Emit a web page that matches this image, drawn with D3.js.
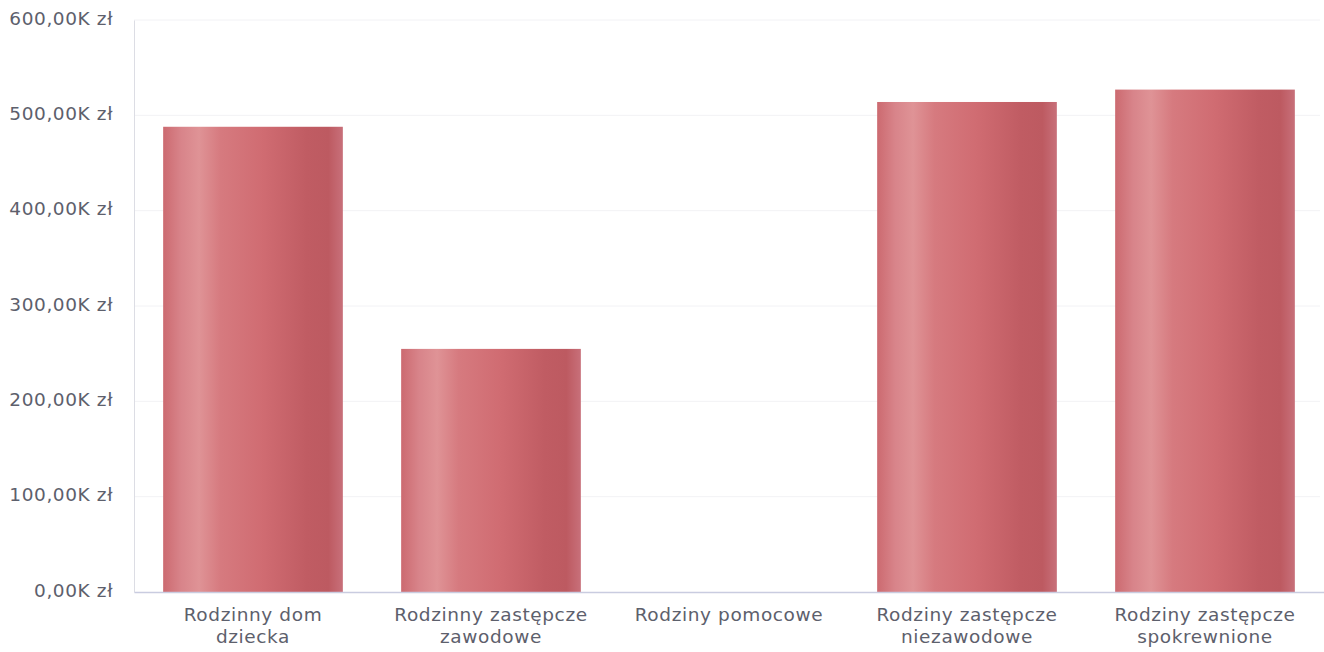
<!DOCTYPE html>
<html><head><meta charset="utf-8">
<script src="https://cdn.jsdelivr.net/npm/d3@7"></script>
<style>
html,body{margin:0;padding:0;background:#fff;}
text{font-family:"DejaVu Sans",sans-serif;}
</style></head>
<body><svg id="c" width="1324" height="652"></svg>
<script>
const categories = ["Rodzinny dom|dziecka","Rodzinny zastępcze|zawodowe","Rodziny pomocowe","Rodziny zastępcze|niezawodowe","Rodziny zastępcze|spokrewnione"];
const values = [488000, 255000, 0, 514000, 527000];
const yTicks = [0, 100000, 200000, 300000, 400000, 500000, 600000];

const svg = d3.select("#c");
const m = {left:134, right:1324, top:20, bottom:592};
const x = d3.scaleBand().domain(categories).range([m.left, m.right]).paddingInner(0.245).paddingOuter(0.1225);
const y = d3.scaleLinear().domain([0, 600000]).range([m.bottom, m.top]);

const defs = svg.append("defs");
const g = defs.append("linearGradient").attr("id","bar").attr("x1","0").attr("x2","1").attr("y1","0").attr("y2","0");
[[0,"#cc6a70"],[0.1,"#d8848a"],[0.2,"#df9396"],[0.32,"#d67a7f"],[0.55,"#d06c72"],[0.8,"#c05c63"],[0.92,"#bd5a61"],[1,"#c8707a"]]
  .forEach(([o,c])=>g.append("stop").attr("offset",o).attr("stop-color",c));

// gridlines
svg.append("g").selectAll("line").data(yTicks.filter(d=>d>0)).join("line")
  .attr("x1", m.left).attr("x2", m.right-4).attr("y1", d=>y(d)).attr("y2", d=>y(d))
  .attr("stroke","#f2f2f5").attr("stroke-width",1);

// y axis
const fmt = d => d3.format(",.2f")(d/1000).replace(/,/g," ").replace(".",",") + "K zł";
const ya = svg.append("g").attr("transform",`translate(${m.left},0)`)
  .call(d3.axisLeft(y).tickValues(yTicks).tickSize(0).tickPadding(21).tickFormat(fmt));
ya.select(".domain").attr("stroke","#dcdde4");
ya.selectAll("text").attr("font-size",18.5).attr("dy","0.22em").attr("fill","#5d606c").attr("letter-spacing","0.6");

// bars
svg.append("g").selectAll("rect").data(values).join("rect")
  .attr("x",(d,i)=>x(categories[i])).attr("width",x.bandwidth())
  .attr("y",d=>y(d)).attr("height",d=>y(0)-y(d))
  .attr("fill","url(#bar)");

// x axis
const xa = svg.append("g").attr("transform",`translate(0,${m.bottom})`)
  .call(d3.axisBottom(x).tickSize(0).tickFormat(""));
xa.select(".domain").attr("stroke","#c9cce0").attr("stroke-width",1.5);
xa.selectAll(".tick").each(function(d){
  const t = d3.select(this).append("text").attr("fill","#5d606c").attr("font-size",18.5)
    .attr("letter-spacing","0.6").attr("text-anchor","middle");
  d.split("|").forEach((s,i)=>t.append("tspan").attr("x",0).attr("y",29+i*22).text(s));
});
</script></body></html>
